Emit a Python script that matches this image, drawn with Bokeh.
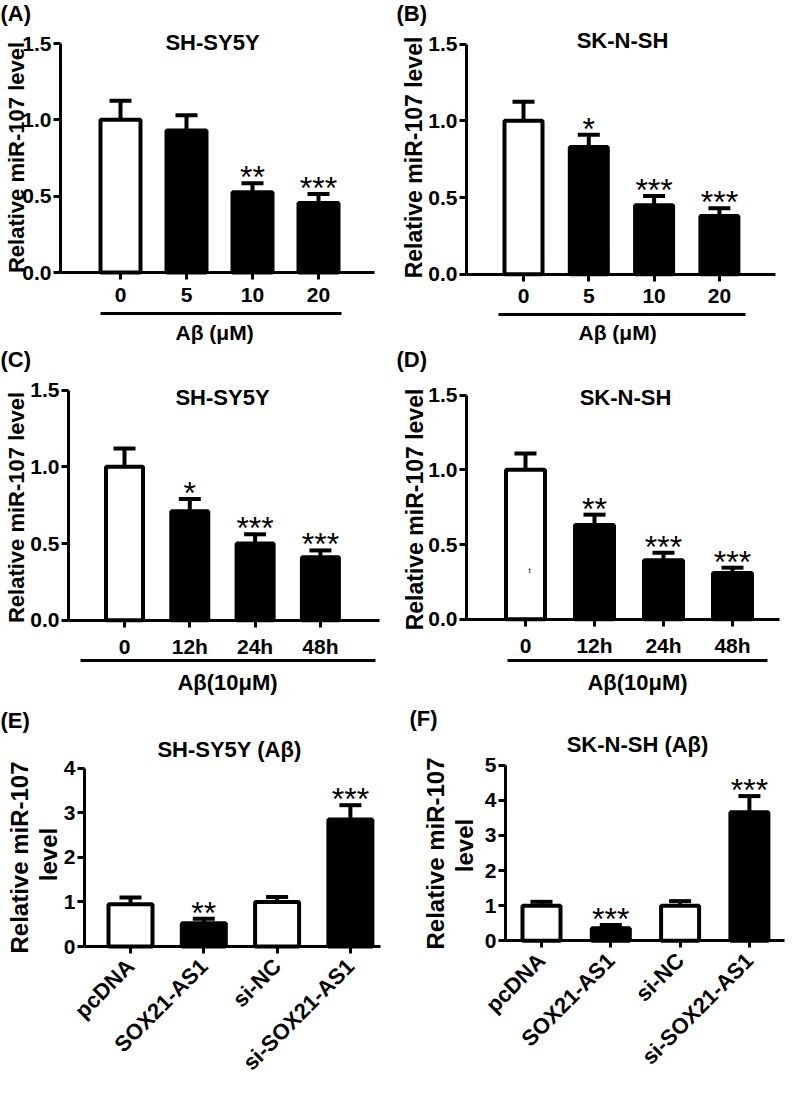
import math
from bokeh.plotting import figure
from bokeh.models import (ColumnDataSource, FixedTicker, Range1d, Whisker,
                          TeeHead, Label, NumeralTickFormatter)
from bokeh.layouts import row, column
from bokeh.core.properties import value
from bokeh.embed import file_html
from bokeh.resources import INLINE

FONT = "Liberation Sans"

# ---------------- data ----------------
dose_labels = ["0", "5", "10", "20"]
time_labels = ["0", "12h", "24h", "48h"]
sox_labels = ["pcDNA", "SOX21-AS1", "si-NC", "si-SOX21-AS1"]

a_mean = [1.00, 0.93, 0.525, 0.455]
a_err = [1.125, 1.03, 0.585, 0.515]
a_sig = ["", "", "**", "***"]

b_mean = [1.00, 0.83, 0.45, 0.38]
b_err = [1.125, 0.91, 0.51, 0.43]
b_sig = ["", "*", "***", "***"]

c_mean = [1.00, 0.71, 0.50, 0.41]
c_err = [1.12, 0.79, 0.56, 0.455]
c_sig = ["", "*", "***", "***"]

d_mean = [1.00, 0.63, 0.395, 0.31]
d_err = [1.11, 0.70, 0.445, 0.345]
d_sig = ["", "**", "***", "***"]

e_mean = [0.95, 0.52, 1.00, 2.85]
e_err = [1.10, 0.62, 1.11, 3.17]
e_sig = ["", "**", "", "***"]

f_mean = [1.00, 0.36, 1.00, 3.66]
f_err = [1.11, 0.45, 1.13, 4.12]
f_sig = ["", "***", "", "***"]

dose_fill = ["white", "black", "black", "black"]
sox_fill = ["white", "black", "white", "black"]

ticks_15 = [0, 0.5, 1.0, 1.5]
ticks_4 = [0, 1, 2, 3, 4]
ticks_5 = [0, 1, 2, 3, 4, 5]


class Geo:
    """Maps page-pixel layout positions to a panel's data coordinates."""

    def __init__(self, ox, oy, W, H, bx0, bdx, y0, ytop, ymax):
        self.ox, self.oy, self.W, self.H = ox, oy, W, H
        self.bx0, self.bdx, self.y0 = bx0, bdx, y0
        self.sy = (y0 - ytop) / ymax
        self.ymax = ymax

    def X(self, px):
        return (px - self.bx0) / self.bdx

    def Y(self, py):
        return (self.y0 - py) / self.sy


def style_axis(ax, size):
    ax.axis_line_width = 3
    ax.axis_line_color = "black"
    ax.major_tick_line_width = 3
    ax.major_tick_line_color = "black"
    ax.major_tick_in = 0
    ax.major_tick_out = 7
    ax.minor_tick_in = 0
    ax.minor_tick_out = 0
    ax.major_label_text_font = FONT
    ax.major_label_text_font_style = "bold"
    ax.major_label_text_font_size = size
    ax.major_label_text_color = "black"


def txt(p, x, y, text, size, align="center", baseline="middle", angle=0,
        bold=True):
    p.add_layout(Label(x=x, y=y, text=text, text_align=align,
                       text_baseline=baseline, angle=angle, text_font=FONT,
                       text_font_style="bold" if bold else "normal",
                       text_font_size=size, text_color="black"))


def make_panel(g, cats, means, errs, sigs, fills, yticks, yfmt, bar_px,
               axis_l, axis_r, title, title_xy, letter, letter_xy,
               ylabels, rotated=False, underline=None, sub=None):
    p = figure(width=g.W, height=g.H,
               x_range=Range1d(g.X(g.ox), g.X(g.ox + g.W)),
               y_range=Range1d(g.Y(g.oy + g.H), g.Y(g.oy)),
               output_backend="svg", toolbar_location=None, title=None,
               min_border=0)
    p.min_border_left = p.min_border_right = 0
    p.min_border_top = p.min_border_bottom = 0
    p.outline_line_color = None
    p.xgrid.visible = False
    p.ygrid.visible = False
    p.background_fill_color = "white"
    p.border_fill_color = "white"

    n = len(cats)
    src = ColumnDataSource(dict(x=list(range(n)), mean=means, err=errs,
                                sig=sigs, fill=fills))
    p.add_layout(Whisker(base="x", lower="mean", upper="err", source=src,
                         line_width=4, line_color="black",
                         upper_head=TeeHead(size=22, line_width=4,
                                            line_color="black"),
                         lower_head=None))
    p.vbar(x="x", top="mean", bottom=0, width=bar_px / g.bdx, source=src,
           fill_color="fill", line_color="black", line_width=4)
    p.text(x="x", y="err", text="sig", source=src, text_align="center",
           text_baseline="alphabetic", y_offset=-6,
           text_font=value(FONT), text_font_size="32px", text_color="black")

    # y axis (fixed at the left edge of the plotting area)
    yax = p.yaxis[0]
    style_axis(yax, "21px")
    yax.fixed_location = g.X(axis_l)
    yax.bounds = (0, g.ymax)
    yax.ticker = FixedTicker(ticks=yticks)
    yax.formatter = NumeralTickFormatter(format=yfmt)
    yax.major_label_standoff = 2

    # x axis (fixed at y = 0)
    xax = p.xaxis[0]
    style_axis(xax, "22px" if rotated else "21px")
    xax.fixed_location = 0
    xax.bounds = (g.X(axis_l), g.X(axis_r))
    xax.ticker = FixedTicker(ticks=list(range(n)))
    xax.major_label_overrides = {i: c for i, c in enumerate(cats)}
    if rotated:
        xax.major_label_orientation = math.pi / 4
        xax.major_label_standoff = 9
    else:
        xax.major_label_standoff = 8

    if underline is not None:
        (ux0, ux1, uy) = underline
        p.segment(x0=[g.X(ux0)], y0=[g.Y(uy)], x1=[g.X(ux1)], y1=[g.Y(uy)],
                  line_width=3, line_color="black")
    if sub is not None:
        (stext, sx, sy, ssize) = sub
        txt(p, g.X(sx), g.Y(sy), stext, ssize)

    txt(p, g.X(title_xy[0]), g.Y(title_xy[1]), title, "22px")
    txt(p, g.X(letter_xy[0]), g.Y(letter_xy[1]), letter, "22px",
        align="left", baseline="top")
    for (lt, bx, cy, size) in ylabels:
        txt(p, g.X(bx), g.Y(cy), lt, size, baseline="alphabetic",
            angle=math.pi / 2)
    return p


ylab = "Relative miR-107 level"

gA = Geo(8, 8, 396, 346, 128, 66.0, 280, 51, 1.5)
pA = make_panel(gA, dose_labels, a_mean, a_err, a_sig, dose_fill, ticks_15,
                "0.0", 40, 68, 382, "SH-SY5Y", (220, 50), "(A)", (8, 8),
                [(ylab, 24, 165, "22px")],
                underline=(108, 349, 321),
                sub=("A\u03b2  (\u03bcM)", 225, 340, "21px"))

gB = Geo(404, 8, 396, 346, 531, 65.3, 281.7, 51.7, 1.5)
pB = make_panel(gB, dose_labels, b_mean, b_err, b_sig, dose_fill, ticks_15,
                "0.0", 38, 474, 783, "SK-N-SH", (630, 48), "(B)", (404, 8),
                [(ylab, 421, 165, "23px")],
                underline=(506, 753, 322),
                sub=("A\u03b2  (\u03bcM)", 628, 340, "21px"))

gC = Geo(8, 354, 396, 352, 132, 65.3, 627.7, 397.7, 1.5)
pC = make_panel(gC, time_labels, c_mean, c_err, c_sig, dose_fill, ticks_15,
                "0.0", 37, 76, 387, "SH-SY5Y", (230, 405), "(C)", (8, 354),
                [(ylab, 24, 515, "22px")],
                underline=(88, 383, 668),
                sub=("A\u03b2(10\u03bcM)", 235, 690, "22px"))

gD = Geo(404, 354, 396, 352, 533, 69.0, 626.7, 402.7, 1.5)
pD = make_panel(gD, time_labels, d_mean, d_err, d_sig, dose_fill, ticks_15,
                "0.0", 39, 474, 787, "SK-N-SH", (633, 405), "(D)", (404, 354),
                [(ylab, 422, 517, "23px")],
                underline=(515, 775, 668),
                sub=("A\u03b2(10\u03bcM)", 645, 690, "22px"))
# small stray mark inside the first bar of panel D
txt(pD, gD.X(537), gD.Y(578), "t", "8px", bold=False)

gE = Geo(8, 706, 396, 389, 138, 73.3, 954, 775.7, 4)
pE = make_panel(gE, sox_labels, e_mean, e_err, e_sig, sox_fill, ticks_4,
                "0", 44, 92, 388, "SH-SY5Y (A\u03b2)", (237, 757), "(E)",
                (8, 715),
                [("Relative miR-107", 27, 865, "24px"),
                 ("level", 56, 862, "24px")], rotated=True)

gF = Geo(404, 706, 396, 389, 549, 69.3, 948.3, 772.7, 5)
pF = make_panel(gF, sox_labels, f_mean, f_err, f_sig, sox_fill, ticks_5,
                "0", 38, 513, 792, "SK-N-SH (A\u03b2)", (645, 752), "(F)",
                (417, 713),
                [("Relative miR-107", 443, 861, "24px"),
                 ("level", 472, 853, "24px")], rotated=True)

layout = column(row(pA, pB), row(pC, pD), row(pE, pF))
open("out.html", "w").write(file_html(layout, INLINE))
